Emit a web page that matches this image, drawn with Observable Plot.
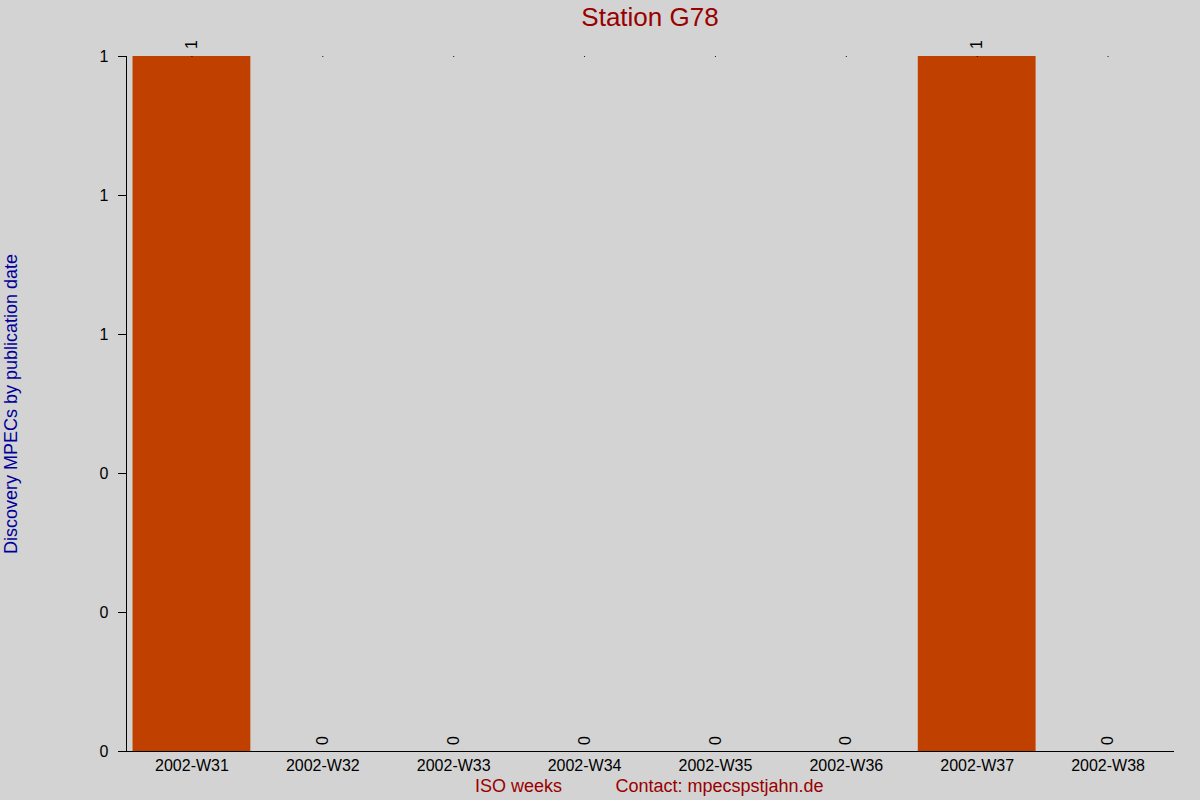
<!DOCTYPE html>
<html>
<head>
<meta charset="utf-8">
<script src="https://cdn.jsdelivr.net/npm/d3@7"></script>
<script src="https://cdn.jsdelivr.net/npm/@observablehq/plot@0.6"></script>
<style>
  html, body { margin: 0; padding: 0; background: #d3d3d3; }
  #chart { width: 1200px; height: 800px; }
  svg { font-family: "Liberation Sans", Arial, sans-serif; }
</style>
</head>
<body>
<div id="chart"></div>
<script>
const weeks = ["2002-W31","2002-W32","2002-W33","2002-W34","2002-W35","2002-W36","2002-W37","2002-W38"];
const counts = [1, 0, 0, 0, 0, 0, 1, 0];
const yTicks = [0, 0.2, 0.4, 0.6, 0.8, 1.0];
const title = "Station G78";
const yLabel = "Discovery MPECs by publication date";
const xLabel = "ISO weeks";
const contact = "Contact: mpecspstjahn.de";

const data = weeks.map((w, i) => ({week: w, count: counts[i]}));
const yMax = d3.max(counts);

const chart = Plot.plot({
  width: 1200,
  height: 800,
  marginLeft: 126,
  marginRight: 27,
  marginTop: 56,
  marginBottom: 49,
  style: {background: "#d3d3d3", fontFamily: "Liberation Sans, Arial, sans-serif", fontSize: "16px", color: "black", overflow: "visible"},
  x: {domain: weeks, paddingInner: 0.1, paddingOuter: 0.05, round: false, label: null},
  y: {domain: [0, 1], label: null},
  marks: [
    Plot.barY(data, {x: "week", y: "count", fill: "#c04000"}),
    Plot.dot(data, {x: "week", y: () => yMax, r: 0.6, fill: "black", stroke: null}),
    Plot.frame({anchor: "left", stroke: "black"}),
    Plot.frame({anchor: "bottom", stroke: "black"}),
    Plot.axisY({ticks: yTicks, tickSize: 8, tickPadding: 10, tickFormat: d3.format(".0f"), fontSize: 16, label: null}),
    Plot.axisX({tickSize: 0, tickPadding: 8, fontSize: 16, label: null}),
    Plot.text(data.filter(d => d.count > 0), {x: "week", y: "count", text: d => String(d.count), rotate: -90, dy: -12, fontSize: 16, fill: "black"}),
    Plot.text(data.filter(d => d.count === 0), {x: "week", y: "count", text: d => String(d.count), rotate: -90, dy: -11, fontSize: 16, fill: "black"}),
    Plot.text([title], {frameAnchor: "top", lineAnchor: "middle", dy: -39, text: d => d, fontSize: 26, fill: "#990000"}),
    Plot.text([yLabel], {frameAnchor: "left", dx: -115, rotate: -90, textAnchor: "middle", text: d => d, fontSize: 18, fill: "#000099"}),
    Plot.text([xLabel], {frameAnchor: "bottom", lineAnchor: "middle", dx: 518 - 649.5, dy: 35, text: d => d, fontSize: 18, fill: "#990000"}),
    Plot.text([contact], {frameAnchor: "bottom", lineAnchor: "middle", dx: 719 - 649.5, dy: 35, text: d => d, fontSize: 18, fill: "#990000"})
  ]
});
document.getElementById("chart").appendChild(chart);
</script>
</body>
</html>
